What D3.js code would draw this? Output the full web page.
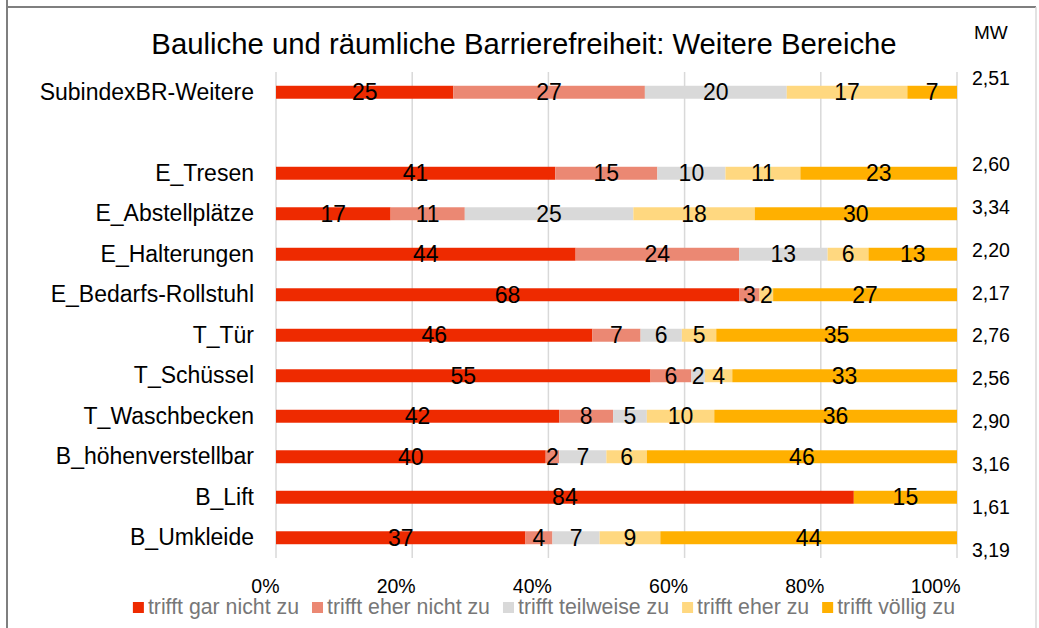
<!DOCTYPE html>
<html>
<head>
<meta charset="utf-8">
<script src="https://cdn.jsdelivr.net/npm/d3@7"></script>
<style>
	body { margin: 0; background: #fff; }
	svg text { font-family: "Liberation Sans", Arial, sans-serif; }
</style>
</head>
<body>
<svg id="chart" width="1039" height="628"></svg>
<script>
// data (percent of answers per item)
var categories = ["SubindexBR-Weitere", "", "E_Tresen", "E_Abstellplätze", "E_Halterungen",
	"E_Bedarfs-Rollstuhl", "T_Tür", "T_Schüssel", "T_Waschbecken", "B_höhenverstellbar",
	"B_Lift", "B_Umkleide"];
var seriesNames = ["trifft gar nicht zu", "trifft eher nicht zu", "trifft teilweise zu",
	"trifft eher zu", "trifft völlig zu"];
var garNicht  = [25, 0, 41, 17, 44, 68, 46, 55, 42, 40, 84, 37];
var eherNicht = [27, 0, 15, 11, 24,  3,  7,  6,  8,  2,  0,  4];
var teilweise = [20, 0, 10, 25, 13,  0,  6,  2,  5,  7,  0,  7];
var eherZu    = [17, 0, 11, 18,  6,  2,  5,  4, 10,  6,  0,  9];
var voellig   = [ 7, 0, 23, 30, 13, 27, 35, 33, 36, 46, 15, 44];
var meanValues = [2.51, null, 2.60, 3.34, 2.20, 2.17, 2.76, 2.56, 2.90, 3.16, 1.61, 3.19];
var tickValues = [0, 0.2, 0.4, 0.6, 0.8, 1];
var colors = ["#ee2a00", "#eb8873", "#d9d9d9", "#ffd880", "#ffb000"];

var svg = d3.select("#chart");
var x, y, yMean;

function buildScales()
{
	x = d3.scaleLinear().domain([0, 1]).range([276, 957]);
	y = d3.scaleBand().domain(categories).range([72, 558])
		.paddingInner(0.68).paddingOuter(0.34);
	// the MW column is laid out a bit looser than the bars
	yMean = d3.scalePoint().domain(categories).range([85, 557]);
}

function drawFrame()
{
	svg.append("line").attr("x1", 7).attr("y1", 0).attr("x2", 7).attr("y2", 628)
		.attr("stroke", "#7f7f7f").attr("stroke-width", 2);
	svg.append("line").attr("x1", 6).attr("y1", 7).attr("x2", 1036).attr("y2", 7)
		.attr("stroke", "#7f7f7f").attr("stroke-width", 2);
	svg.append("line").attr("x1", 1036).attr("y1", 7).attr("x2", 1036).attr("y2", 628)
		.attr("stroke", "#d9d9d9").attr("stroke-width", 1.5);

	svg.append("text")
		.attr("x", 524).attr("y", 54)
		.attr("text-anchor", "middle")
		.attr("font-size", "29.3px")
		.attr("fill", "#000")
		.text("Bauliche und räumliche Barrierefreiheit: Weitere Bereiche");
}

function drawGrid()
{
	svg.append("g").selectAll("line").data(tickValues).enter().append("line")
		.attr("x1", function(d) { return x(d); })
		.attr("x2", function(d) { return x(d); })
		.attr("y1", 72)
		.attr("y2", 558)
		.attr("stroke", "#d9d9d9")
		.attr("stroke-width", 1.5);
}

function drawBars()
{
	var rows = categories.map(function(c, i) {
		return { cat: c, s0: garNicht[i], s1: eherNicht[i], s2: teilweise[i], s3: eherZu[i], s4: voellig[i] };
	});
	var keys = ["s0", "s1", "s2", "s3", "s4"];
	var stacked = d3.stack().keys(keys).offset(d3.stackOffsetExpand)(rows);

	var layers = svg.append("g").selectAll("g").data(stacked).enter().append("g")
		.attr("fill", function(d, i) { return colors[i]; });

	layers.selectAll("rect")
		.data(function(d) { return d.filter(function(p) { return p[1] > p[0]; }); })
		.enter().append("rect")
		.attr("x", function(p) { return x(p[0]); })
		.attr("width", function(p) { return x(p[1]) - x(p[0]); })
		.attr("y", function(p) { return y(p.data.cat); })
		.attr("height", y.bandwidth());

	// value labels in the middle of each segment
	var labels = svg.append("g");
	stacked.forEach(function(layer) {
		layer.forEach(function(p) {
			var v = p.data[layer.key];
			if (!v) return;
			labels.append("text")
				.attr("x", x((p[0] + p[1]) / 2))
				.attr("y", y(p.data.cat) + y.bandwidth() / 2 + 8)
				.attr("text-anchor", "middle")
				.attr("font-size", "23px")
				.attr("fill", "#000")
				.text(v);
		});
	});
}

function drawAxes()
{
	var left = svg.append("g")
		.attr("transform", "translate(276,0)")
		.call(d3.axisLeft(y).tickSize(0).tickPadding(22));
	left.select(".domain").remove();
	left.selectAll("text").attr("font-size", "23px").attr("fill", "#000")
		.attr("font-family", "Liberation Sans, Arial, sans-serif");

	var bottom = svg.append("g")
		.attr("transform", "translate(0,558)")
		.call(d3.axisBottom(x).tickValues(tickValues).tickFormat(d3.format(".0%")).tickSize(0).tickPadding(21));
	bottom.select(".domain").remove();
	bottom.selectAll("text").attr("font-size", "19.5px").attr("fill", "#000")
		.attr("font-family", "Liberation Sans, Arial, sans-serif")
		.attr("text-anchor", "end").attr("dx", 3);
}

function drawMeans()
{
	var fmt = d3.format(".2f");
	svg.append("text")
		.attr("x", 974).attr("y", 39)
		.attr("font-size", "19px").attr("fill", "#000")
		.text("MW");

	svg.append("g").selectAll("text")
		.data(categories.filter(function(c, i) { return meanValues[i] != null; }))
		.enter().append("text")
		.attr("x", 972)
		.attr("y", function(c) { return yMean(c); })
		.attr("font-size", "19.5px")
		.attr("fill", "#000")
		.text(function(c) { return fmt(meanValues[categories.indexOf(c)]).replace(".", ","); });
}

function drawLegend()
{
	var legend = svg.append("g");
	var pos = 0;
	seriesNames.forEach(function(name, i) {
		var item = legend.append("g").attr("transform", "translate(" + pos + ",0)");
		item.append("rect").attr("x", 0).attr("y", 602).attr("width", 11).attr("height", 11)
			.attr("fill", colors[i]);
		var t = item.append("text").attr("x", 15).attr("y", 614)
			.attr("font-size", "21.3px").attr("fill", "#777")
			.text(name);
		pos += 15 + t.node().getComputedTextLength() + 13;
	});
	// center the legend under the chart
	var total = pos - 13;
	legend.attr("transform", "translate(" + (544 - total / 2) + ",0)");
}

buildScales();
drawFrame();
drawGrid();
drawBars();
drawAxes();
drawMeans();
drawLegend();
</script>
</body>
</html>
